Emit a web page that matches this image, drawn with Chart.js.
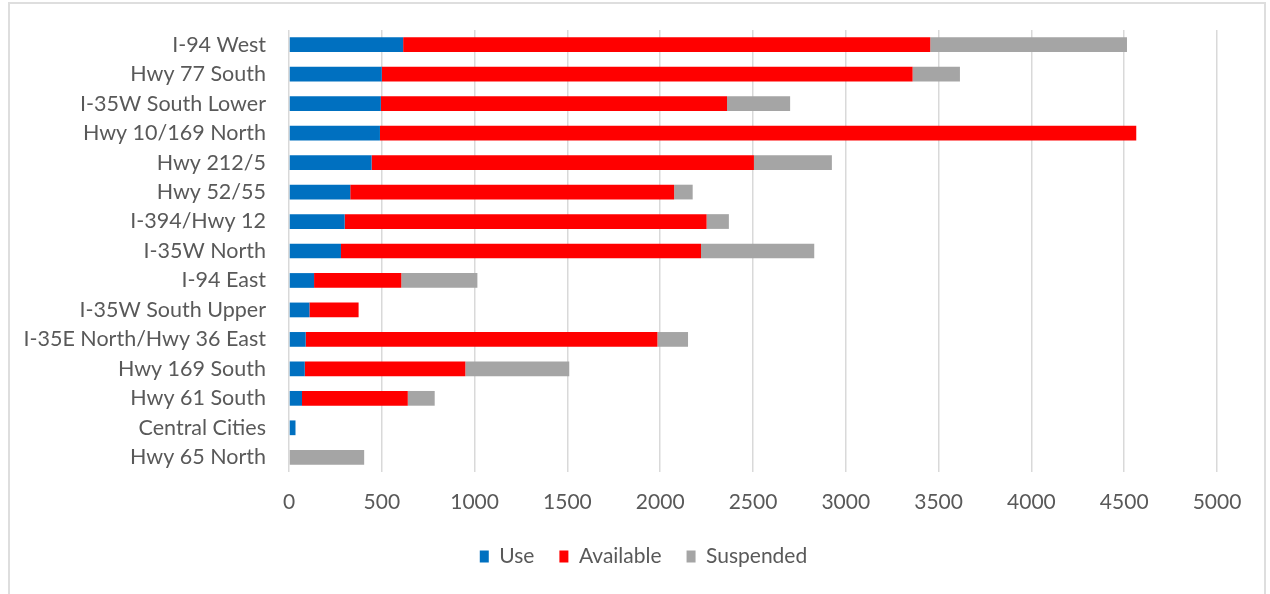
<!DOCTYPE html>
<html>
<head>
<meta charset="utf-8">
<script src="https://cdn.jsdelivr.net/npm/chart.js@4"></script>
<style>
  html, body { margin: 0; padding: 0; background: #ffffff; }
  #wrap { position: relative; width: 1270px; height: 594px; overflow: hidden; background: #fff; }
  #frame { position: absolute; left: 8px; top: 2px; width: 1258px; height: 640px; border: 2px solid #dedede; box-sizing: border-box; }
  canvas { position: absolute; left: 0; top: 0; }
</style>
</head>
<body>
<div id="wrap">
  <div id="frame"></div>
  <canvas id="c" width="1270" height="594"></canvas>
</div>
<script>
const categories = [
  "I-94 West", "Hwy 77 South", "I-35W South Lower", "Hwy 10/169 North", "Hwy 212/5",
  "Hwy 52/55", "I-394/Hwy 12", "I-35W North", "I-94 East", "I-35W South Upper",
  "I-35E North/Hwy 36 East", "Hwy 169 South", "Hwy 61 South", "Central Cities", "Hwy 65 North"
];
const useValues       = [615, 500, 495, 490, 445, 330, 300, 280, 135, 110, 90, 85, 70, 35, 0];
const availableValues = [2840, 2860, 1865, 4075, 2060, 1745, 1950, 1940, 470, 265, 1895, 865, 570, 0, 0];
const suspendedValues = [1060, 255, 340, 0, 420, 100, 120, 610, 410, 0, 165, 560, 145, 0, 405];
const seriesNames = ["Use", "Available", "Suspended"];
const xTicks = [0, 500, 1000, 1500, 2000, 2500, 3000, 3500, 4000, 4500, 5000];

const textColor = "#595959";
const fontFamily = "Lato, 'Open Sans', sans-serif";

// shift the centred legend to match the reference's horizontal position
const legendShift = {
  id: "legendShift",
  afterLayout(chart) {
    if (chart.legend) { chart.legend.left += 35; chart.legend.right += 35; }
  }
};

new Chart(document.getElementById("c"), {
  type: "bar",
  data: {
    labels: categories,
    datasets: [
      { label: seriesNames[0], data: useValues, backgroundColor: "#0070C0" },
      { label: seriesNames[1], data: availableValues, backgroundColor: "#FF0000" },
      { label: seriesNames[2], data: suspendedValues, backgroundColor: "#A5A5A5" }
    ]
  },
  plugins: [legendShift],
  options: {
    indexAxis: "y",
    responsive: false,
    animation: false,
    devicePixelRatio: 1,
    layout: { padding: { left: 0, right: 53, top: 30, bottom: 17 } },
    datasets: { bar: { categoryPercentage: 1.0, barPercentage: 0.5 } },
    scales: {
      x: {
        stacked: true,
        min: 0, max: 5000,
        afterBuildTicks: (axis) => { axis.ticks = xTicks.map(v => ({ value: v })); },
        afterFit: (axis) => { axis.height = 49; },
        grid: { color: "#d9d9d9", lineWidth: 1.5, drawTicks: false },
        border: { display: false },
        ticks: {
          color: textColor, font: { family: fontFamily, size: 21 }, padding: 18,
          callback: (v) => String(v)
        }
      },
      y: {
        stacked: true,
        afterFit: (axis) => { axis.width = 289; axis.paddingTop = 0; axis.paddingBottom = 0; },
        grid: { display: false, drawTicks: false },
        border: { display: false },
        ticks: { color: textColor, font: { family: fontFamily, size: 21.5 }, padding: 23, autoSkip: false }
      }
    },
    plugins: {
      legend: {
        position: "bottom",
        labels: {
          color: textColor,
          font: { family: fontFamily, size: 21 },
          boxWidth: 9, boxHeight: 12, padding: 25
        }
      },
      tooltip: { enabled: false }
    }
  }
});
</script>
</body>
</html>
